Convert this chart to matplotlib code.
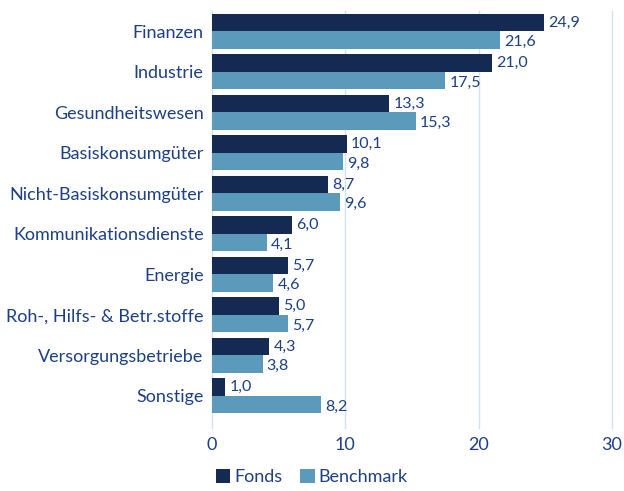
import matplotlib
matplotlib.use("Agg")
import matplotlib.pyplot as plt
import numpy as np

categories = ["Finanzen", "Industrie", "Gesundheitswesen", "Basiskonsumgüter",
              "Nicht-Basiskonsumgüter", "Kommunikationsdienste", "Energie",
              "Roh-, Hilfs- & Betr.stoffe", "Versorgungsbetriebe", "Sonstige"]
fonds = [24.9, 21.0, 13.3, 10.1, 8.7, 6.0, 5.7, 5.0, 4.3, 1.0]
benchmark = [21.6, 17.5, 15.3, 9.8, 9.6, 4.1, 4.6, 5.7, 3.8, 8.2]
xticks = [0, 10, 20, 30]

plt.rcParams['font.family'] = ['Lato', 'DejaVu Sans']
txt = "#1c3f85"
c_f = "#142a52"
c_b = "#5b9aba"
grid_c = "#cde5ee"

fig = plt.figure(figsize=(6.24, 4.91), dpi=100)
ax = fig.add_axes([212/624, 1-416/491, 400/624, 405/491])

y = np.arange(len(categories))
h = 0.43
ax.barh(y - h/2, fonds, height=h, color=c_f, label="Fonds", zorder=3)
ax.barh(y + h/2, benchmark, height=h, color=c_b, label="Benchmark", zorder=3)

for i in range(len(categories)):
    ax.text(fonds[i] + 0.3, y[i] - h/2, f"{fonds[i]:.1f}".replace(".", ","),
            va="center", ha="left", color=txt, fontsize=11.5)
    ax.text(benchmark[i] + 0.3, y[i] + h/2 + 0.05, f"{benchmark[i]:.1f}".replace(".", ","),
            va="center", ha="left", color=txt, fontsize=11.5)

ax.set_ylim(len(categories) - 0.5, -0.5)
ax.set_xlim(0, 30)
ax.set_yticks(y)
ax.set_yticklabels(categories, fontsize=13, color=txt)
ax.set_xticks(xticks)
ax.set_xticklabels([str(t) for t in xticks], fontsize=13, color=txt)
ax.tick_params(axis="both", length=0)
ax.tick_params(axis="y", pad=6)
ax.tick_params(axis="x", pad=15)
for s in ax.spines.values():
    s.set_visible(False)
for t in xticks:
    ax.axvline(t, color=grid_c, lw=1, zorder=1, ymin=-0.03, clip_on=False)

leg = fig.legend(loc="lower left", bbox_to_anchor=(205/624, -0.01), ncol=2, frameon=False,
                 fontsize=13, handlelength=0.8, handleheight=0.8, handletextpad=0.2,
                 columnspacing=1.0, borderaxespad=0.2)
for t in leg.get_texts():
    t.set_color(txt)

fig.savefig("out.png", dpi=100)
